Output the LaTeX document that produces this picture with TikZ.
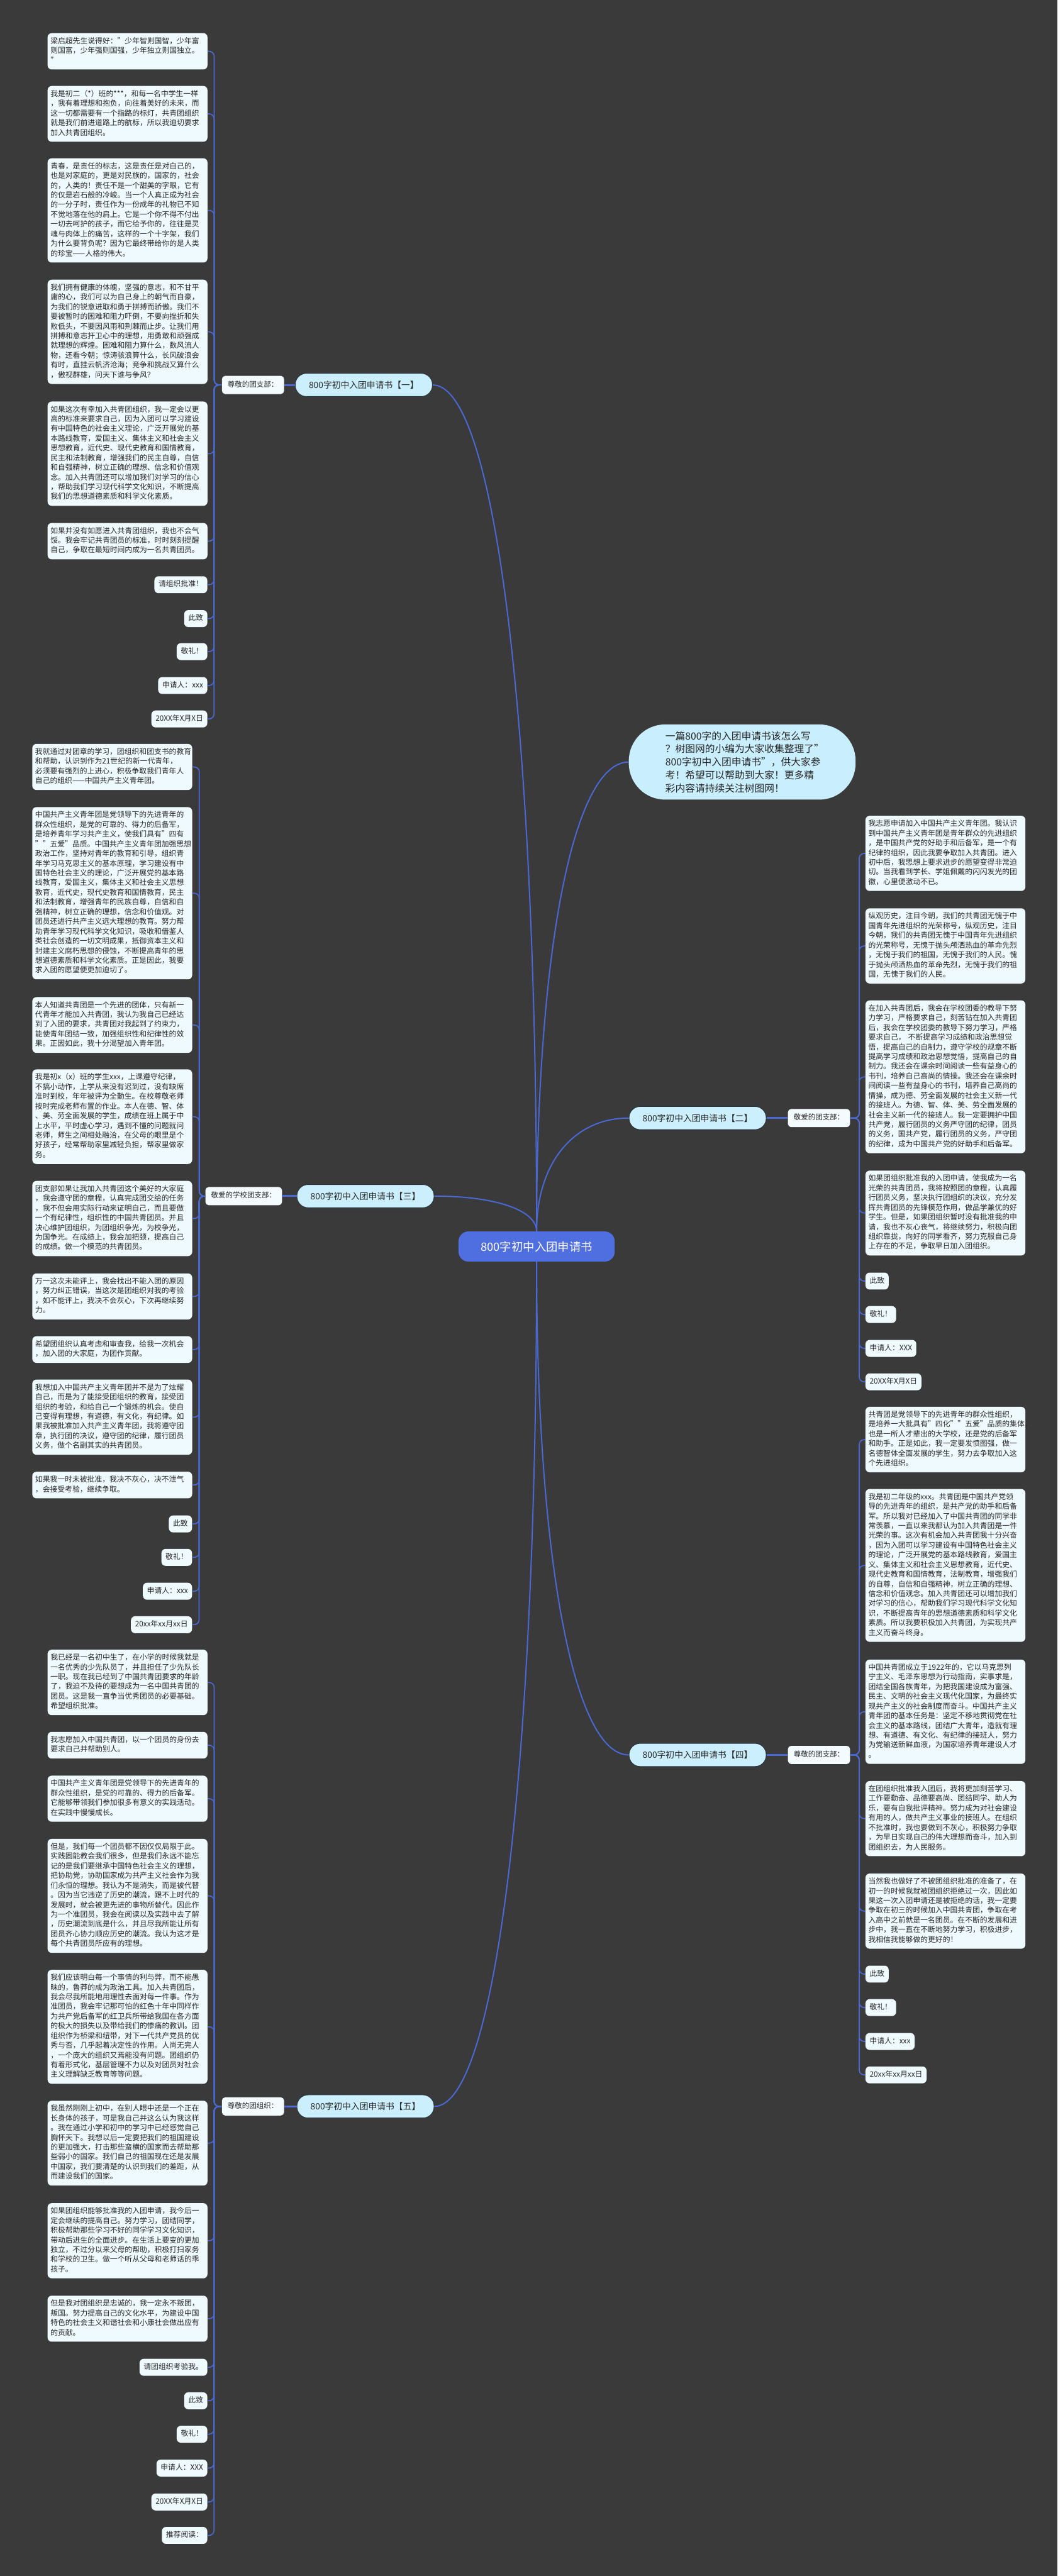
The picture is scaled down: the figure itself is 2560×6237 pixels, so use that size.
\documentclass[tikz,border=0pt]{standalone}
\usepackage{fontspec}
\setmainfont{Noto Sans CJK SC}
\usepackage{tikz}
\usetikzlibrary{calc, positioning}

\definecolor{bgdark}{HTML}{3A3A3A}
\definecolor{cardfill}{HTML}{EFFAFE}
\definecolor{tagfill}{HTML}{F3FBFE}
\definecolor{topicfill}{HTML}{CBEFFC}
\definecolor{topicedge}{HTML}{27343F}
\definecolor{hubblue}{HTML}{4F6EE0}
\definecolor{notefill}{HTML}{C9EEFD}
\definecolor{wire}{HTML}{4A69D5}
\definecolor{ink}{HTML}{262626}

\begin{document}
\begin{tikzpicture}[
    x=1pt, y=-1pt,
    card/.style={rectangle, rounded corners=10pt, fill=cardfill, text=ink, font=\fontsize{18}{23.5}\selectfont, inner xsep=7pt, inner ysep=8.75pt, execute at begin node=\strut, execute at end node=\strut},
    memo/.style={card, inner xsep=10pt},
    para/.style={card, text width=373pt, align=left},
    tag/.style={rectangle, rounded corners=8pt, fill=tagfill, text=ink, font=\fontsize{17.5}{23.5}\selectfont, inner xsep=14pt, inner ysep=10.25pt, execute at begin node=\strut},
    topic/.style={rectangle, rounded corners=27pt, fill=topicfill, draw=topicedge, line width=1.5pt, text=ink, minimum height=56pt, inner xsep=33pt, font=\fontsize{21}{25}\selectfont},
    hub/.style={rectangle, rounded corners=24pt, fill=hubblue, text=white, minimum width=378pt, minimum height=73pt, font=\fontsize{28}{32}\selectfont},
    note/.style={rectangle, rounded corners=88pt, fill=notefill, text=ink, minimum width=549pt, minimum height=182pt, text width=372pt, align=left, font=\fontsize{24}{31.7}\selectfont},
    twig/.style={wire, line width=2.5pt, rounded corners=12pt},
    stem/.style={wire, line width=4.5pt},
    limb/.style={wire, line width=3pt}
]
    \useasboundingbox (0,0) rectangle (2560,6237);
    \fill[bgdark] (0,0) rectangle (2560,6237);

    \node[hub] (hub) at (1299,3018) {800字初中入团申请书};
    \node[note, anchor=west] (note) at (1522,1845) {一篇800字的入团申请书该怎么写\\？树图网的小编为大家收集整理了"\\800字初中入团申请书"，供大家参\\考！希望可以帮助到大家！更多精\\彩内容请持续关注树图网！};

    \node[topic, anchor=west] (T1) at (714,932) {800字初中入团申请书【一】};
    \node[topic, anchor=west] (T2) at (1522,2707) {800字初中入团申请书【二】};
    \node[topic, anchor=west] (T3) at (718,2896) {800字初中入团申请书【三】};
    \node[topic, anchor=west] (T4) at (1522,4249) {800字初中入团申请书【四】};
    \node[topic, anchor=west] (T5) at (718,5100) {800字初中入团申请书【五】};

    \node[tag, anchor=west] (tagA) at (537,932) {尊敬的团支部：};
    \node[tag, anchor=east] (tagB) at (2058,2707) {敬爱的团支部：};
    \node[tag, anchor=west] (tagC) at (497,2896) {敬爱的学校团支部：};
    \node[tag, anchor=east] (tagD) at (2058,4249) {尊敬的团支部：};
    \node[tag, anchor=west] (tagE) at (537,5100) {尊敬的团组织：};

    \node[para, anchor=north west] (A1) at (115,80) {梁启超先生说得好："少年智则国智，少年富\\则国富，少年强则国强，少年独立则国独立。\\"};
    \node[para, anchor=north west] (A2) at (115,208) {我是初二（*）班的***，和每一名中学生一样\\，我有着理想和抱负，向往着美好的未来，而\\这一切都需要有一个指路的标灯，共青团组织\\就是我们前进道路上的航标，所以我迫切要求\\加入共青团组织。};
    \node[para, anchor=north west] (A3) at (115,383) {青春，是责任的标志，这是责任是对自己的，\\也是对家庭的，更是对民族的，国家的，社会\\的，人类的！责任不是一个甜美的字眼，它有\\的仅是岩石般的冷峻。当一个人真正成为社会\\的一分子时，责任作为一份成年的礼物已不知\\不觉地落在他的肩上。它是一个你不得不付出\\一切去呵护的孩子，而它给予你的，往往是灵\\魂与肉体上的痛苦，这样的一个十字架，我们\\为什么要背负呢？因为它最终带给你的是人类\\的珍宝——人格的伟大。};
    \node[para, anchor=north west] (A4) at (115,677) {我们拥有健康的体魄，坚强的意志，和不甘平\\庸的心，我们可以为自己身上的朝气而自豪，\\为我们的锐意进取和勇于拼搏而骄傲。我们不\\要被暂时的困难和阻力吓倒，不要向挫折和失\\败低头，不要因风雨和荆棘而止步。让我们用\\拼搏和意志扞卫心中的理想，用勇敢和顽强成\\就理想的辉煌。困难和阻力算什么，数风流人\\物，还看今朝；惊涛骇浪算什么，长风破浪会\\有时，直挂云帆济沧海；竞争和挑战又算什么\\，傲视群雄，问天下谁与争风？};
    \node[para, anchor=north west] (A5) at (115,972) {如果这次有幸加入共青团组织，我一定会以更\\高的标准来要求自己，因为入团可以学习建设\\有中国特色的社会主义理论，广泛开展党的基\\本路线教育，爱国主义、集体主义和社会主义\\思想教育，近代史、现代史教育和国情教育，\\民主和法制教育，增强我们的民主自尊，自信\\和自强精神，树立正确的理想、信念和价值观\\念。加入共青团还可以增加我们对学习的信心\\，帮助我们学习现代科学文化知识，不断提高\\我们的思想道德素质和科学文化素质。};
    \node[para, anchor=north west] (A6) at (115,1266) {如果并没有如愿进入共青团组织，我也不会气\\馁。我会牢记共青团员的标准，时时刻刻提醒\\自己，争取在最短时间内成为一名共青团员。};
    \node[memo, anchor=north east] (A7) at (502,1395) {请组织批准！};
    \node[memo, anchor=north east] (A8) at (502,1477) {此致};
    \node[memo, anchor=north east] (A9) at (502,1557) {敬礼！};
    \node[memo, anchor=north east] (A10) at (502,1639) {申请人：xxx};
    \node[memo, anchor=north east] (A11) at (502,1720) {20XX年X月X日};

    \node[para, anchor=north west] (B1) at (2095,1975) {我志愿申请加入中国共产主义青年团。我认识\\到中国共产主义青年团是青年群众的先进组织\\，是中国共产党的好助手和后备军，是一个有\\纪律的组织，因此我要争取加入共青团。进入\\初中后，我思想上要求进步的愿望变得非常迫\\切。当我看到学长、学姐佩戴的闪闪发光的团\\徽，心里便激动不已。};
    \node[para, anchor=north west] (B2) at (2095,2199) {纵观历史，注目今朝，我们的共青团无愧于中\\国青年先进组织的光荣称号，纵观历史，注目\\今朝，我们的共青团无愧于中国青年先进组织\\的光荣称号，无愧于抛头颅洒热血的革命先烈\\，无愧于我们的祖国，无愧于我们的人民。愧\\于抛头颅洒热血的革命先烈，无愧于我们的祖\\国，无愧于我们的人民。};
    \node[para, anchor=north west] (B3) at (2095,2422) {在加入共青团后，我会在学校团委的教导下努\\力学习，严格要求自己，刻苦钻在加入共青团\\后，我会在学校团委的教导下努力学习，严格\\要求自己， 不断提高学习成绩和政治思想觉\\悟，提高自己的自制力，遵守学校的规章不断\\提高学习成绩和政治思想觉悟，提高自己的自\\制力。我还会在课余时间阅读一些有益身心的\\书刊，培养自己高尚的情操。我还会在课余时\\间阅读一些有益身心的书刊，培养自己高尚的\\情操，成为德、劳全面发展的社会主义新一代\\的接班人。为德、智、体、美、劳全面发展的\\社会主义新一代的接班人。我一定要拥护中国\\共产党，履行团员的义务严守团的纪律，团员\\的义务，国共产党，履行团员的义务，严守团\\的纪律，成为中国共产党的好助手和后备军。};
    \node[para, anchor=north west] (B4) at (2095,2834) {如果团组织批准我的入团申请，使我成为一名\\光荣的共青团员，我将按照团的章程，认真履\\行团员义务，坚决执行团组织的决议，充分发\\挥共青团员的先锋模范作用，做品学兼优的好\\学生。但是，如果团组织暂时没有批准我的申\\请，我也不灰心丧气，将继续努力，积极向团\\组织靠拢，向好的同学看齐，努力克服自己身\\上存在的不足，争取早日加入团组织。};
    \node[memo, anchor=north west] (B5) at (2095,3081) {此致};
    \node[memo, anchor=north west] (B6) at (2095,3162) {敬礼！};
    \node[memo, anchor=north west] (B7) at (2095,3244) {申请人：XXX};
    \node[memo, anchor=north west] (B8) at (2095,3325) {20XX年X月X日};

    \node[para, anchor=north west] (C1) at (78,1801) {我就通过对团章的学习，团组织和团支书的教育\\和帮助，认识到作为21世纪的新一代青年，\\必须要有强烈的上进心，积极争取我们青年人\\自己的组织——中国共产主义青年团。};
    \node[para, anchor=north west] (C2) at (78,1954) {中国共产主义青年团是党领导下的先进青年的\\群众性组织，是党的可靠的、得力的后备军，\\是培养青年学习共产主义，使我们具有"四有\\""五爱"品质。中国共产主义青年团加强思想\\政治工作，坚持对青年的教育和引导，组织青\\年学习马克思主义的基本原理，学习建设有中\\国特色社会主义的理论，广泛开展党的基本路\\线教育，爱国主义，集体主义和社会主义思想\\教育，近代史，现代史教育和国情教育，民主\\和法制教育，增强青年的民族自尊，自信和自\\强精神，树立正确的理想，信念和价值观。对\\团员还进行共产主义远大理想的教育。努力帮\\助青年学习现代科学文化知识，吸收和借鉴人\\类社会创造的一切文明成果，抵御资本主义和\\封建主义腐朽思想的侵蚀，不断提高青年的思\\想道德素质和科学文化素质。正是因此，我要\\求入团的愿望便更加迫切了。};
    \node[para, anchor=north west] (C3) at (78,2414) {本人知道共青团是一个先进的团体，只有新一\\代青年才能加入共青团，我认为我自己已经达\\到了入团的要求，共青团对我起到了约束力，\\能使青年团结一致，加强组织性和纪律性的效\\果。正因如此，我十分渴望加入青年团。};
    \node[para, anchor=north west] (C4) at (78,2589) {我是初x（x）班的学生xxx，上课遵守纪律，\\不搞小动作，上学从来没有迟到过，没有缺席\\准时到校，年年被评为全勤生。在校尊敬老师\\按时完成老师布置的作业。本人在德、智、体\\、美、劳全面发展的学生，成绩在班上属于中\\上水平，平时虚心学习，遇到不懂的问题就问\\老师，师生之间相处融洽，在父母的眼里是个\\好孩子，经常帮助家里减轻负担，帮家里做家\\务。};
    \node[para, anchor=north west] (C5) at (78,2859) {团支部如果让我加入共青团这个美好的大家庭\\，我会遵守团的章程，认真完成团交给的任务\\，我不但会用实际行动来证明自己，而且要做\\一个有纪律性，组织性的中国共青团员。并且\\决心维护团组织，为团组织争光，为校争光，\\为国争光。在成绩上，我会加把颈，提高自己\\的成绩。做一个模范的共青团员。};
    \node[para, anchor=north west] (C6) at (78,3083) {万一这次未能评上，我会找出不能入团的原因\\，努力纠正错误，当这次是团组织对我的考验\\，如不能评上，我决不会灰心，下次再继续努\\力。};
    \node[para, anchor=north west] (C7) at (78,3235) {希望团组织认真考虑和审查我，给我一次机会\\，加入团的大家庭，为团作贡献。};
    \node[para, anchor=north west] (C8) at (78,3340) {我想加入中国共产主义青年团并不是为了炫耀\\自己，而是为了能接受团组织的教育，接受团\\组织的考验，和给自己一个锻炼的机会。使自\\己变得有理想，有道德，有文化，有纪律。如\\果我被批准加入共产主义青年团，我将遵守团\\章，执行团的决议，遵守团的纪律，履行团员\\义务，做个名副其实的共青团员。};
    \node[para, anchor=north west] (C9) at (78,3563) {如果我一时未被批准，我决不灰心，决不泄气\\，会接受考验，继续争取。};
    \node[memo, anchor=north east] (C10) at (465,3669) {此致};
    \node[memo, anchor=north east] (C11) at (465,3750) {敬礼！};
    \node[memo, anchor=north east] (C12) at (465,3832) {申请人：xxx};
    \node[memo, anchor=north east] (C13) at (465,3913) {20xx年xx月xx日};

    \node[para, anchor=north west] (D1) at (2095,3406) {共青团是党领导下的先进青年的群众性组织，\\是培养一大批具有"四化""五爱"品质的集体，\\也是一所人才辈出的大学校，还是党的后备军\\和助手。正是如此，我一定要发愤图强，做一\\名德智体全面发展的学生，努力去争取加入这\\个先进组织。};
    \node[para, anchor=north west] (D2) at (2095,3605) {我是初二年级的xxx。共青团是中国共产党领\\导的先进青年的组织，是共产党的助手和后备\\军。所以我对已经加入了中国共青团的同学非\\常羡慕，一直以来我都认为加入共青团是一件\\光荣的事。这次有机会加入共青团我十分兴奋\\，因为入团可以学习建设有中国特色社会主义\\的理论，广泛开展党的基本路线教育，爱国主\\义、集体主义和社会主义思想教育，近代史、\\现代史教育和国情教育，法制教育，增强我们\\的自尊，自信和自强精神，树立正确的理想、\\信念和价值观念。加入共青团还可以增加我们\\对学习的信心，帮助我们学习现代科学文化知\\识，不断提高青年的思想道德素质和科学文化\\素质。所以我要积极加入共青团，为实现共产\\主义而奋斗终身。};
    \node[para, anchor=north west] (D3) at (2095,4018) {中国共青团成立于1922年的，它以马克思列\\宁主义、毛泽东思想为行动指南，实事求是，\\团结全国各族青年，为把我国建设成为富强、\\民主、文明的社会主义现代化国家，为最终实\\现共产主义的社会制度而奋斗。中国共产主义\\青年团的基本任务是：坚定不移地贯彻党在社\\会主义的基本路线，团结广大青年，造就有理\\想、有道德、有文化、有纪律的接班人，努力\\为党输送新鲜血液，为国家培养青年建设人才\\。};
    \node[para, anchor=north west] (D4) at (2095,4312) {在团组织批准我入团后，我将更加刻苦学习、\\工作要勤奋、品德要高尚、团结同学、助人为\\乐，要有自我批评精神。努力成为对社会建设\\有用的人，做共产主义事业的接班人。在组织\\不批准时，我也要做到不灰心，积极努力争取\\，为早日实现自己的伟大理想而奋斗，加入到\\团组织去，为人民服务。};
    \node[para, anchor=north west] (D5) at (2095,4536) {当然我也做好了不被团组织批准的准备了，在\\初一的时候我就被团组织拒绝过一次，因此如\\果这一次入团申请还是被拒绝的话，我一定要\\争取在初三的时候加入中国共青团，争取在考\\入高中之前就是一名团员。在不断的发展和进\\步中，我一直在不断地努力学习，积极进步，\\我相信我能够做的更好的！};
    \node[memo, anchor=north west] (D6) at (2095,4759) {此致};
    \node[memo, anchor=north west] (D7) at (2095,4840) {敬礼！};
    \node[memo, anchor=north west] (D8) at (2095,4922) {申请人：xxx};
    \node[memo, anchor=north west] (D9) at (2095,5003) {20xx年xx月xx日};

    \node[para, anchor=north west] (E1) at (115,3994) {我已经是一名初中生了，在小学的时候我就是\\一名优秀的少先队员了，并且担任了少先队长\\一职。现在我已经到了中国共青团要求的年龄\\了，我迫不及待的要想成为一名中国共青团的\\团员。这是我一直争当优秀团员的必要基础。\\希望组织批准。};
    \node[para, anchor=north west] (E2) at (115,4193) {我志愿加入中国共青团，以一个团员的身份去\\要求自己并帮助别人。};
    \node[para, anchor=north west] (E3) at (115,4299) {中国共产主义青年团是党领导下的先进青年的\\群众性组织，是党的可靠的、得力的后备军。\\它能够带领我们参加很多有意义的实践活动。\\在实践中慢慢成长。};
    \node[para, anchor=north west] (E4) at (115,4452) {但是，我们每一个团员都不因仅仅局限于此。\\实践固能教会我们很多，但是我们永远不能忘\\记的是我们要继承中国特色社会主义的理想，\\把协助党，协助国家成为共产主义社会作为我\\们永恒的理想。我认为不是消失，而是被代替\\。因为当它违逆了历史的潮流，跟不上时代的\\发展时，就会被更先进的事物所替代。因此作\\为一个准团员，我会在阅读以及实践中去了解\\，历史潮流到底是什么，并且尽我所能让所有\\团员齐心协力顺应历史的潮流。我认为这才是\\每个共青团员所应有的理想。};
    \node[para, anchor=north west] (E5) at (115,4769) {我们应该明白每一个事情的利与弊，而不能愚\\昧的，鲁莽的成为政治工具。加入共青团后，\\我会尽我所能地用理性去面对每一件事。作为\\准团员，我会牢记那可怕的红色十年中同样作\\为共产党后备军的红卫兵所带给我国在各方面\\的极大的损失以及带给我们的惨痛的教训。团\\组织作为桥梁和纽带，对下一代共产党员的优\\秀与否，几乎起着决定性的作用。人尚无完人\\，一个庞大的组织又焉能没有问题。团组织仍\\有着形式化，基层管理不力以及对团员对社会\\主义理解缺乏教育等等问题。};
    \node[para, anchor=north west] (E6) at (115,5086) {我虽然刚刚上初中，在别人眼中还是一个正在\\长身体的孩子，可是我自己并这么认为我这样\\。我在通过小学和初中的学习中已经感觉自己\\胸怀天下。我想以后一定要把我们的祖国建设\\的更加强大，打击那些蛮横的国家而去帮助那\\些弱小的国家。我们自己的祖国现在还是发展\\中国家，我们要清楚的认识到我们的差距，从\\而建设我们的国家。};
    \node[para, anchor=north west] (E7) at (115,5334) {如果团组织能够批准我的入团申请，我今后一\\定会继续的提高自己。努力学习，团结同学，\\积极帮助那些学习不好的同学学习文化知识，\\带动后进生的全面进步。在生活上要变的更加\\独立，不过分以来父母的帮助，积极打扫家务\\和学校的卫生。做一个听从父母和老师话的乖\\孩子。};
    \node[para, anchor=north west] (E8) at (115,5558) {但是我对团组织是忠诚的，我一定永不叛团，\\叛国。努力提高自己的文化水平，为建设中国\\特色的社会主义和谐社会和小康社会做出应有\\的贡献。};
    \node[memo, anchor=north east] (E9) at (502,5711) {请团组织考验我。};
    \node[memo, anchor=north east] (E10) at (502,5792) {此致};
    \node[memo, anchor=north east] (E11) at (502,5873) {敬礼！};
    \node[memo, anchor=north east] (E12) at (502,5955) {申请人：XXX};
    \node[memo, anchor=north east] (E13) at (502,6037) {20XX年X月X日};
    \node[memo, anchor=north east] (E14) at (502,6118) {推荐阅读：};

    \foreach \t/\a/\s in {T1/north/east, T3/north/east, T5/south/east, T2/north/west, T4/south/west, note/north/west}
        \draw[limb] (hub.\a) .. controls ($(hub.\a)!0.6!(hub.\a |- \t.\s)$) and ($(\t.\s)!0.6!(hub.\a |- \t.\s)$) .. (\t.\s);

    \draw[stem] (tagA.east) -- (T1.west);
    \draw[stem] (T2.east) -- (tagB.west);
    \draw[stem] (tagC.east) -- (T3.west);
    \draw[stem] (T4.east) -- (tagD.west);
    \draw[stem] (tagE.east) -- (T5.west);

    \foreach \c in {1,...,11}
        \draw[twig] (tagA.west) -| ([xshift=16pt]A\c.east) -- (A\c.east);
    \foreach \c in {1,...,8}
        \draw[twig] (tagB.east) -| ([xshift=-15pt]B\c.west) -- (B\c.west);
    \foreach \c in {1,...,13}
        \draw[twig] (tagC.west) -| ([xshift=17pt]C\c.east) -- (C\c.east);
    \foreach \c in {1,...,9}
        \draw[twig] (tagD.east) -| ([xshift=-15pt]D\c.west) -- (D\c.west);
    \foreach \c in {1,...,14}
        \draw[twig] (tagE.west) -| ([xshift=16pt]E\c.east) -- (E\c.east);
\end{tikzpicture}
\end{document}
